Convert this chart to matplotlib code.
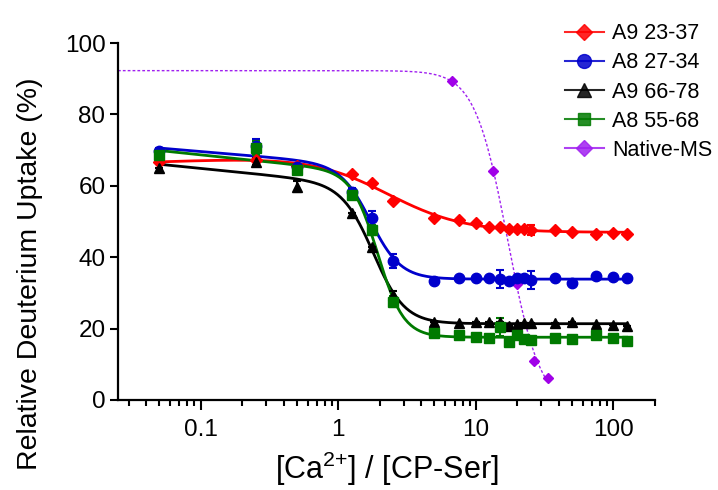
import numpy as np
import matplotlib.pyplot as plt

plt.rcParams['font.family'] = ['Liberation Sans', 'DejaVu Sans']
plt.rcParams['mathtext.default'] = 'regular'

# ratio [Ca2+]/[CP-Ser]
ratio = [0.05, 0.25, 0.5, 1.25, 1.75, 2.5, 5, 7.5, 10, 12.5, 15, 17.5, 20, 22.5, 25, 37.5, 50, 75, 100, 125]

a9_23 = [66.8, 67.2, 65.5, 63.3, 60.7, 55.7, 50.9, 50.4, 49.7, 48.5, 48.4, 47.9, 47.9, 47.8, 47.6, 47.6, 47.0, 46.5, 46.7, 46.4]
a9_23_err = [0, 0, 0, 0, 0, 0, 0, 0, 0, 0, 0, 0, 0, 0, 1.5, 0, 0, 0, 0, 0]

a8_27 = [69.7, 71.1, 65.4, 58.3, 50.9, 38.9, 33.3, 34.1, 34.1, 34.1, 33.9, 33.4, 34.1, 34.3, 33.6, 34.1, 32.7, 34.7, 34.4, 34.1]
a8_27_err = [1, 2, 0, 1, 2, 2, 0, 0, 0, 0, 2.5, 0, 0, 0, 2.5, 0, 0, 0, 0, 0]

a9_66 = [64.9, 66.8, 59.8, 52.5, 42.9, 29.4, 21.9, 21.5, 21.9, 21.9, 21.9, 20.7, 21.3, 21.5, 21.5, 21.5, 21.9, 21.3, 21.0, 20.8]
a9_66_err = [0, 1, 1.5, 0, 0, 1, 0, 0, 0, 0, 0, 0, 0, 0, 0, 0, 0, 0, 0, 0]

a8_55 = [68.6, 70.5, 64.4, 57.4, 47.6, 27.5, 18.7, 18.2, 17.7, 17.3, 20.5, 16.3, 18.2, 17.0, 16.8, 17.3, 17.0, 18.2, 17.5, 16.6]
a8_55_err = [1, 2, 0, 1, 1.5, 1.5, 0, 0, 0, 0, 2.5, 0, 0, 0, 0, 0, 0, 0, 0, 0]

native_x = [6.67, 13.33, 20, 26.67, 33.33]
native_y = [89.4, 64.2, 32.5, 11.0, 6.2]

fig = plt.figure(figsize=(7.18, 4.90), dpi=100)
ax = fig.add_axes([0.1643, 0.1837, 0.7477, 0.7285])


def hill_fit(x, y, ecs, ns, slope=False):
    # grid over ec50 / hill slope, the rest by linear least squares
    x = np.asarray(x, float)
    y = np.asarray(y, float)
    best = None
    for ec in ecs:
        for n in ns:
            f = 1.0 / (1 + (x / ec) ** n)
            cols = [f, 1 - f]
            if slope:
                cols.append(np.log10(x) * f)
            A = np.vstack(cols).T
            p = np.linalg.lstsq(A, y, rcond=None)[0]
            r = np.sum((A @ p - y) ** 2)
            if best is None or r < best[0]:
                best = (r, ec, n, p)
    return best[1:]


def hill_eval(xx, ec, n, p):
    f = 1.0 / (1 + (xx / ec) ** n)
    out = p[0] * f + p[1] * (1 - f)
    if len(p) > 2:
        out = out + p[2] * np.log10(xx) * f
    return out


series = [
    (a9_23, a9_23_err, '#ff0000', 'D', 6, 'A9 23-37'),
    (a8_27, a8_27_err, '#0000cc', 'o', 7.5, 'A8 27-34'),
    (a9_66, a9_66_err, '#000000', '^', 7, 'A9 66-78'),
    (a8_55, a8_55_err, '#007a00', 's', 6.5, 'A8 55-68'),
]

x = np.array(ratio)
xx = np.logspace(np.log10(x.min()), np.log10(x.max()), 300)
ecs = np.logspace(-0.3, 1, 131)
ns = np.linspace(0.8, 6, 105)
handles = []
for y, e, col, m, ms, lab in series:
    y = np.array(y)
    ec, n, p = hill_fit(x, y, ecs, ns, slope=True)
    ax.plot(xx, hill_eval(xx, ec, n, p), color=col, lw=2, zorder=2)
    ax.errorbar(x, y, yerr=e, fmt=m, color=col, ms=ms, capsize=3, elinewidth=1.5,
                capthick=1.5, zorder=3)
    h, = ax.plot([], [], color=col, marker=m, ms=ms + 2.5, lw=1.5, alpha=0.85, label=lab)
    handles.append(h)

ec, n, p = hill_fit(native_x, native_y, np.linspace(8, 30, 221), np.linspace(1, 8, 141))
xn = np.logspace(np.log10(0.025), np.log10(max(native_x)), 400)
ax.plot(xn, hill_eval(xn, ec, n, p), color='#a020f0', lw=1, ls=(0, (2, 1.5)), zorder=2)
ax.plot(native_x, native_y, 'D', color='#a000e8', ms=5.5, zorder=3)
h, = ax.plot([], [], color='#a020f0', marker='D', ms=8.5, lw=1.5, alpha=0.85, label='Native-MS')
handles.append(h)

ax.set_xscale('log')
ax.set_xlim(0.025, 200)
ax.set_ylim(0, 100)
ax.set_yticks([0, 20, 40, 60, 80, 100])
ax.set_xticks([0.1, 1, 10, 100])
ax.set_xticklabels(['0.1', '1', '10', '100'])

for s in ['top', 'right']:
    ax.spines[s].set_visible(False)
for s in ['left', 'bottom']:
    ax.spines[s].set_linewidth(1.6)

ax.tick_params(axis='both', which='major', direction='out', width=1.5, labelsize=17.5)
ax.tick_params(axis='y', length=6, pad=3)
ax.tick_params(axis='x', which='major', length=7, pad=7)
ax.tick_params(axis='x', which='minor', length=4, width=1.5)

ax.set_ylabel('Relative Deuterium Uptake (%)', fontsize=20.5)
ax.yaxis.set_label_coords(-0.14, 0.355)
ax.set_xlabel('[Ca$^{2{+}}$] / [CP-Ser]', fontsize=22, labelpad=6)

fig.legend(handles=handles, loc='upper left', bbox_to_anchor=(0.775, 0.97), frameon=False,
           borderaxespad=0, fontsize=15.5, handlelength=1.8, handletextpad=0.4,
           labelspacing=0.38)

fig.savefig('out.png', dpi=100)
